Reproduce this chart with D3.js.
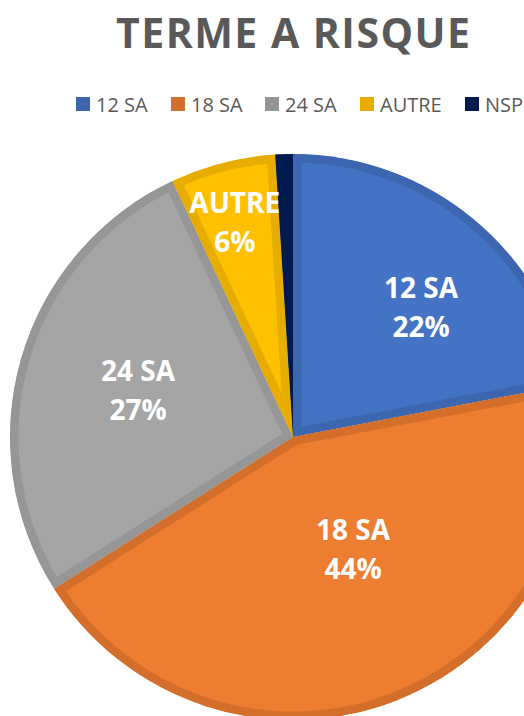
<!DOCTYPE html>
<html>
<head>
<meta charset="utf-8">
<script src="https://cdn.jsdelivr.net/npm/d3@7"></script>
<style>
  html, body { margin: 0; padding: 0; background: #fff; overflow: hidden; }
</style>
</head>
<body>
<script>
// Data
const categories = ["12 SA", "18 SA", "24 SA", "AUTRE", "NSP"];
const values = [22, 44, 27, 6, 1];
const fillColors = ["#4472C4", "#ED7D31", "#A5A5A5", "#FFC000", "#002060"];
const edgeColors = ["#3D66B0", "#D46F2B", "#969696", "#E6AC00", "#001A4F"];

const width = 524, height = 716;
const cx = 293, cy = 437, radius = 283;

// label placement (Excel "best fit"): share of radius, and angle nudge in degrees
const labelR = [0.64, 0.455, 0.57, 0.78];
const labelTurn = [5.4, -6.2, 0, -0.9];

const svg = d3.select("body").append("svg")
    .attr("width", width)
    .attr("height", height)
    .style("font-family", '"Open Sans", sans-serif');

// Title
svg.append("text")
    .attr("x", 293)
    .attr("y", 48)
    .attr("text-anchor", "middle")
    .attr("fill", "#595959")
    .attr("textLength", 354)
    .attr("lengthAdjust", "spacing")
    .style("font-size", "41px")
    .style("font-weight", "700")
    .text("TERME A RISQUE");

// Legend
const legendX = [76, 171, 265, 360, 465];
const legend = svg.append("g").selectAll("g")
    .data(categories)
    .join("g")
    .attr("transform", (d, i) => "translate(" + legendX[i] + ",97)");

legend.append("rect")
    .attr("width", 14)
    .attr("height", 14)
    .attr("fill", (d, i) => edgeColors[i]);

legend.append("text")
    .attr("x", 20)
    .attr("y", 15)
    .attr("fill", "#595959")
    .style("font-size", "20px")
    .text(d => d);

// Pie
const pie = d3.pie().sort(null).value(d => d);
const arcs = pie(values);
const arc = d3.arc().innerRadius(0).outerRadius(radius);

const g = svg.append("g").attr("transform", "translate(" + cx + "," + cy + ")");
const defs = svg.append("defs");

arcs.forEach(function (a, i) {
    defs.append("clipPath")
        .attr("id", "clip" + i)
        .append("path")
        .attr("d", arc(a));
});

g.selectAll("path.slice")
    .data(arcs)
    .join("path")
    .attr("class", "slice")
    .attr("d", arc)
    .attr("fill", (d, i) => fillColors[i])
    .attr("stroke", (d, i) => edgeColors[i])
    .attr("stroke-width", 17)
    .attr("stroke-linejoin", "round")
    .attr("clip-path", (d, i) => "url(#clip" + i + ")");

// Labels
const labels = g.selectAll("g.label")
    .data(arcs.slice(0, 4))
    .join("g")
    .attr("class", "label")
    .attr("transform", function (d, i) {
        const r = radius * labelR[i];
        const a = (d.startAngle + d.endAngle) / 2 + labelTurn[i] * Math.PI / 180;
        return "translate(" + (r * Math.sin(a)) + "," + (-r * Math.cos(a)) + ")";
    });

labels.append("text")
    .attr("text-anchor", "middle")
    .attr("y", -11)
    .attr("fill", "#fff")
    .style("font-size", "28px")
    .style("font-weight", "700")
    .text((d, i) => categories[i]);

labels.append("text")
    .attr("text-anchor", "middle")
    .attr("y", 28)
    .attr("fill", "#fff")
    .style("font-size", "28px")
    .style("font-weight", "700")
    .text(d => d.value + "%");
</script>
</body>
</html>
